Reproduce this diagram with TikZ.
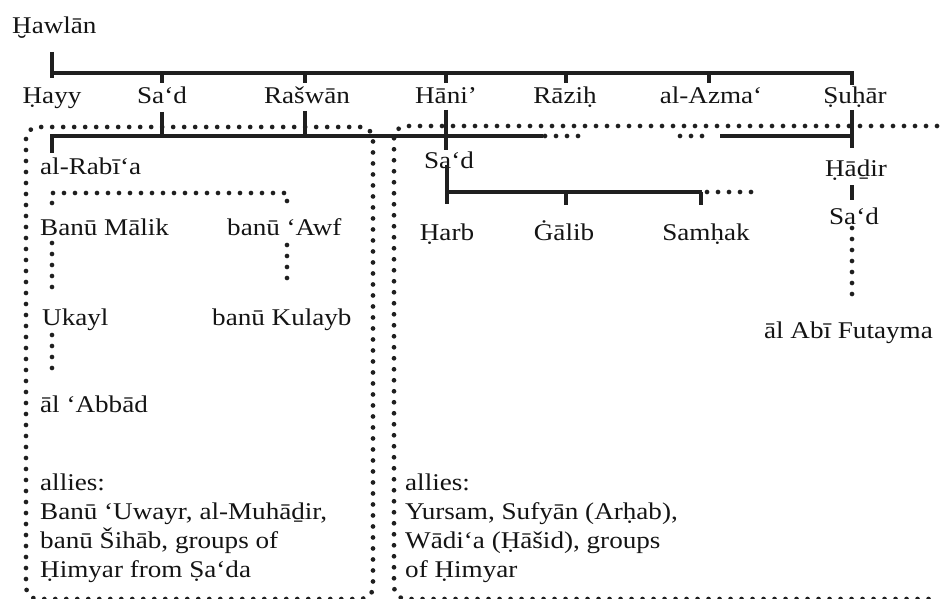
\documentclass[tikz,border=0pt]{standalone}
\usepackage{fontspec}
\setmainfont{Liberation Serif}[FakeStretch=1.13]
\tikzset{
  lbl/.style={font=\fontsize{24}{29}\selectfont, inner sep=0pt, anchor=base, text=black!92},
  lblw/.style={lbl, anchor=base west},
  lble/.style={lbl, anchor=base east},
  solidline/.style={line width=4pt, black!88},
  dotline/.style={line width=4.7pt, line cap=round, dash pattern=on 0pt off 11pt, black!88},
}
\begin{document}
\begin{tikzpicture}[x=1pt,y=-1pt]
\useasboundingbox[fill=white] (0,0) rectangle (940,599);

% ---------- labels ----------
\node[lblw] (hawlan) at (12,34) {Ḫawlān};
\node[lbl] (hayy)   at (52,104)  {Ḥayy};
\node[lbl] (sad1)   at (162,104) {Sa‘d};
\node[lbl] (raswan) at (307,104) {Rašwān};
\node[lbl] (hani)   at (446,104) {Hāni’};
\node[lbl] (razih)  at (565,104) {Rāziḥ};
\node[lbl] (azma)   at (711,104) {al-Azma‘};
\node[lbl] (suhar)  at (855,104) {Ṣuḥār};

\node[lblw] (rabia) at (40,175) {al-Rabī‘a};
\node[lbl] (sad2)   at (449,168) {Sa‘d};
\node[lbl] (hadir)  at (856,177) {Ḥāḏir};
\node[lbl] (sad3)   at (854,224) {Sa‘d};
\node[lble] (abi)   at (933,338) {āl Abī Futayma};
\node[lbl] (harb)   at (447,240) {Ḥarb};
\node[lbl] (galib)  at (564,240) {Ġālib};
\node[lbl] (samhak) at (706,240) {Samḥak};

\node[lblw] (malik)  at (40,235)  {Banū Mālik};
\node[lblw] (awf)    at (227,235) {banū ‘Awf};
\node[lblw] (ukayl)  at (42,325)  {Ukayl};
\node[lblw] (kulayb) at (212,325) {banū Kulayb};
\node[lblw] (abbad)  at (40,412)  {āl ‘Abbād};

\node[lblw] (allyLa) at (40,490) {allies:};
\node[lblw] (allyLb) at (40,519) {Banū ‘Uwayr, al-Muhāḏir,};
\node[lblw] (allyLc) at (40,548) {banū Šihāb, groups of};
\node[lblw] (allyLd) at (40,577) {Ḥimyar from Ṣa‘da};

\node[lblw] (allyRa) at (405,490) {allies:};
\node[lblw] (allyRb) at (405,519) {Yursam, Sufyān (Arḥab),};
\node[lblw] (allyRc) at (405,548) {Wādi‘a (Ḥāšid), groups};
\node[lblw] (allyRd) at (405,577) {of Ḥimyar};

% ---------- junction coordinates ----------
\coordinate (rootTop) at (52,52);
\coordinate (rootBot) at (52,78);
\coordinate (barL) at (52,73);
\coordinate (barR) at (852,73);
\coordinate (suharTick) at (852,85);

% ---------- dotted groupings ----------
\draw[dotline, rounded corners=12pt] (26,127) rectangle (373,599);
\draw[dotline, rounded corners=12pt] (937,126) -- (394,126) -- (394,599) -- (937,599);

\draw[dotline] (545,136) -- (588,136);
\draw[dotline] (680,136) -- (713,136);
\draw[dotline] (707,192) -- (753,192);

\draw[dotline] (52,203) -- (52,193) -- (287,193) -- (287,203);
\draw[dotline] (52,243) -- (52,298);
\draw[dotline] (52,335) -- (52,378);
\draw[dotline] (287,245) -- (287,288);
\draw[dotline] (852,228) -- (852,305);

% ---------- solid lines ----------
\draw[solidline] (rootTop) -- (rootBot);
\draw[solidline] (barL) -- (barR) -- (suharTick);
\foreach \xx in {162,305,446,566,709}
  \draw[solidline] (\xx,73) -- (\xx,83);

\draw[solidline] (162,112) -- (162,136);
\draw[solidline] (305,111) -- (305,136);
\draw[solidline] (446,110) -- (446,150);
\draw[solidline] (52,153) -- (52,136) -- (543,136);

\draw[solidline] (720,136) -- (852,136);
\draw[solidline] (852,110) -- (852,148);
\draw[solidline] (852,185) -- (852,200);

\draw[solidline] (447,165) -- (447,204);
\draw[solidline] (447,192) -- (702,192);
\draw[solidline] (566,192) -- (566,205);
\draw[solidline] (701,192) -- (701,205);
\end{tikzpicture}
\end{document}
